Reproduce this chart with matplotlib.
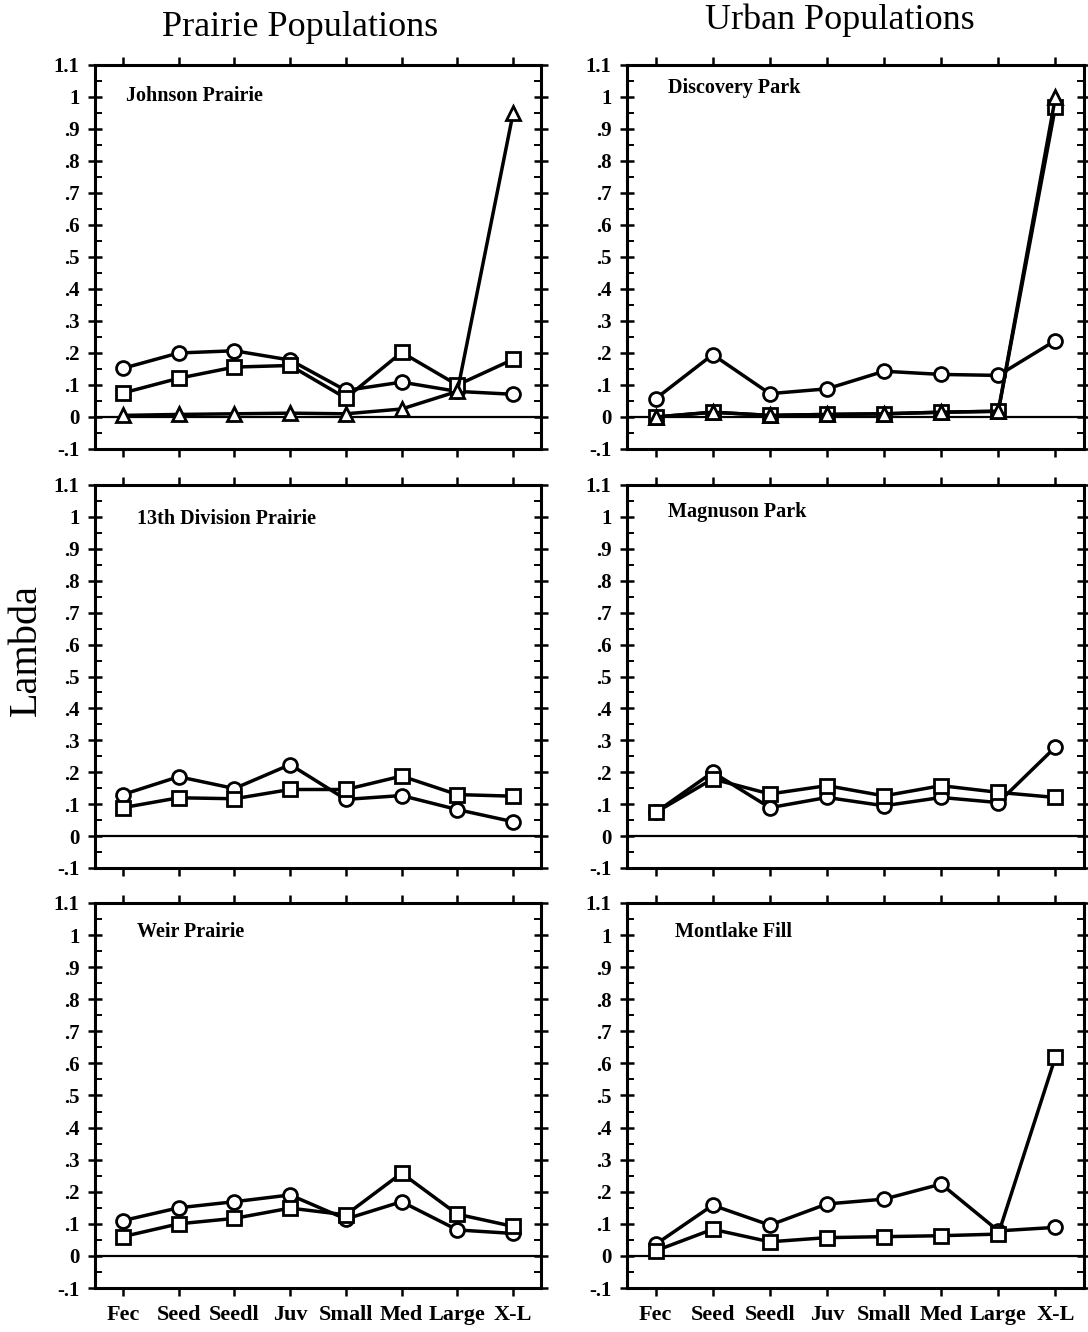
import numpy as np
import matplotlib.pyplot as plt

# Stage classes along the x axis
stages = ["Fec", "Seed", "Seedl", "Juv", "Small", "Med", "Large", "X-L"]

# Johnson Prairie
johnson_circle = [0.152, 0.200, 0.207, 0.178, 0.083, 0.109, 0.080, 0.071]
johnson_square = [0.075, 0.121, 0.156, 0.161, 0.059, 0.202, 0.100, 0.180]
johnson_triangle = [0.005, 0.008, 0.010, 0.012, 0.010, 0.025, 0.080, 0.950]

# Discovery Park
discovery_circle = [0.057, 0.195, 0.073, 0.088, 0.143, 0.133, 0.130, 0.239]
discovery_square = [0.000, 0.015, 0.005, 0.008, 0.010, 0.015, 0.018, 0.970]
discovery_triangle = [0.000, 0.015, 0.005, 0.008, 0.010, 0.015, 0.018, 1.000]

# 13th Division Prairie
division_circle = [0.130, 0.186, 0.149, 0.224, 0.115, 0.127, 0.083, 0.045]
division_square = [0.089, 0.120, 0.117, 0.146, 0.146, 0.188, 0.130, 0.125]

# Magnuson Park
magnuson_circle = [0.074, 0.200, 0.089, 0.121, 0.095, 0.121, 0.105, 0.279]
magnuson_square = [0.074, 0.179, 0.132, 0.158, 0.126, 0.158, 0.137, 0.121]

# Weir Prairie
weir_circle = [0.110, 0.150, 0.169, 0.190, 0.115, 0.169, 0.081, 0.070]
weir_square = [0.060, 0.100, 0.117, 0.149, 0.128, 0.258, 0.130, 0.092]

# Montlake Fill
montlake_circle = [0.036, 0.158, 0.096, 0.162, 0.177, 0.224, 0.078, 0.089]
montlake_square = [0.016, 0.083, 0.044, 0.057, 0.060, 0.063, 0.068, 0.620]

yticks = [-0.1, 0, 0.1, 0.2, 0.3, 0.4, 0.5, 0.6, 0.7, 0.8, 0.9, 1.0, 1.1]
ytick_labels = ["-.1", "0", ".1", ".2", ".3", ".4", ".5", ".6", ".7", ".8",
                ".9", "1", "1.1"]

plt.rcParams["font.family"] = ["Liberation Serif", "DejaVu Serif"]

W, H = 1088, 1332
fig = plt.figure(figsize=(W / 100, H / 100), dpi=100)

# panel frames in pixels: (left, top, width, height)
cols = [(95, 446), (627, 457)]
rows = [(65, 384), (485, 383), (903, 385)]

panels = [
    ("Johnson Prairie", [johnson_circle, johnson_square, johnson_triangle], (0.07, 0.92)),
    ("Discovery Park", [discovery_circle, discovery_square, discovery_triangle], (0.09, 0.94)),
    ("13th Division Prairie", [division_circle, division_square], (0.095, 0.91)),
    ("Magnuson Park", [magnuson_circle, magnuson_square], (0.09, 0.93)),
    ("Weir Prairie", [weir_circle, weir_square], (0.095, 0.925)),
    ("Montlake Fill", [montlake_circle, montlake_square], (0.105, 0.925)),
]
markers = ["o", "s", "^"]

x = np.arange(len(stages))
for i, (name, series, (tx, ty)) in enumerate(panels):
    r, c = divmod(i, 2)
    left, width = cols[c]
    top, height = rows[r]
    ax = fig.add_axes([left / W, 1 - (top + height) / H, width / W, height / H])

    ax.axhline(0, color="black", lw=1.6, zorder=1)
    for vals, m in zip(series, markers):
        ax.plot(x, vals, color="black", lw=2.5, marker=m, markersize=10,
                mfc="white", mec="black", mew=2.0, zorder=3)

    ax.set_xlim(-0.5, 7.5)
    ax.set_ylim(-0.1, 1.1)
    ax.set_yticks(yticks)
    ax.set_yticklabels(ytick_labels, fontweight="bold")
    ax.set_yticks(np.arange(-0.1, 1.1, 0.05), minor=True)
    ax.set_xticks(x)
    if r == 2:
        ax.set_xticklabels(stages, fontweight="bold")
    else:
        ax.set_xticklabels([])

    ax.tick_params(axis="y", which="major", direction="inout", length=10,
                   width=1.8, right=True, labelsize=15, pad=6)
    ax.tick_params(axis="y", which="minor", direction="in", length=5,
                   width=1.4, right=True)
    ax.tick_params(axis="x", which="major", direction="out", length=6,
                   width=1.8, top=True, labelsize=16, pad=6)
    for s in ax.spines.values():
        s.set_linewidth(2.2)

    ax.text(tx, ty, name, transform=ax.transAxes, fontsize=14.5,
            fontweight="bold", ha="left", va="center")

fig.text(300 / W, 1 - 28 / H, "Prairie Populations", fontsize=26,
         ha="center", va="center")
fig.text(840 / W, 1 - 20 / H, "Urban Populations", fontsize=26,
         ha="center", va="center")
fig.text(26 / W, 1 - 650 / H, "Lambda", fontsize=29, rotation=90,
         ha="center", va="center")

fig.savefig("out.png", dpi=100)
